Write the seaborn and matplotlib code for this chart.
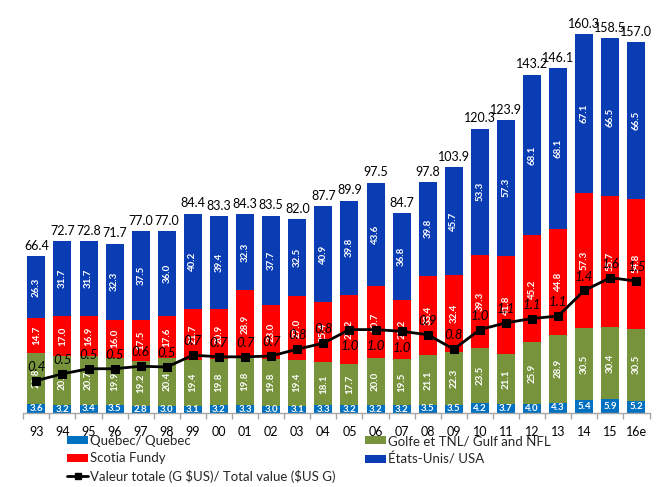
import matplotlib
matplotlib.use("Agg")
import matplotlib.pyplot as plt
import seaborn as sns
import numpy as np
import pandas as pd
from matplotlib.patches import Patch
from matplotlib.lines import Line2D

years = ["93", "94", "95", "96", "97", "98", "99", "00", "01", "02", "03", "04",
         "05", "06", "07", "08", "09", "10", "11", "12", "13", "14", "15", "16e"]
quebec = [3.6, 3.2, 3.4, 3.5, 2.8, 3.0, 3.1, 3.2, 3.3, 3.0, 3.1, 3.3,
          3.2, 3.2, 3.2, 3.5, 3.5, 4.2, 3.7, 4.0, 4.3, 5.4, 5.9, 5.2]
gulf = [21.8, 20.9, 20.7, 19.9, 19.2, 20.4, 19.4, 19.8, 19.8, 19.8, 19.4, 18.1,
        17.7, 20.0, 19.5, 21.1, 22.3, 23.5, 21.1, 25.9, 28.9, 30.5, 30.4, 30.5]
scotia = [14.7, 17.0, 16.9, 16.0, 17.5, 17.6, 21.7, 20.9, 28.9, 23.0, 27.0, 25.4,
          29.2, 30.7, 25.2, 33.4, 32.4, 39.3, 41.8, 45.2, 44.8, 57.3, 55.7, 54.8]
usa = [26.3, 31.7, 31.7, 32.3, 37.5, 36.0, 40.2, 39.4, 32.3, 37.7, 32.5, 40.9,
       39.8, 43.6, 36.8, 39.8, 45.7, 53.3, 57.3, 68.1, 68.1, 67.1, 66.5, 66.5]
totals = [66.4, 72.7, 72.8, 71.7, 77.0, 77.0, 84.4, 83.3, 84.3, 83.5, 82.0, 87.7,
          89.9, 97.5, 84.7, 97.8, 103.9, 120.3, 123.9, 143.2, 146.1, 160.3, 158.5, 157.0]
value = [0.38, 0.46, 0.52, 0.52, 0.55, 0.54, 0.68, 0.66, 0.66, 0.67, 0.75, 0.82,
         0.98, 0.98, 0.96, 0.92, 0.75, 0.98, 1.06, 1.11, 1.14, 1.44, 1.59, 1.55]
value_labels = ["0.4", "0.5", "0.5", "0.5", "0.6", "0.5", "0.7", "0.7", "0.7", "0.7",
                "0.8", "0.8", "1.0", "1.0", "1.0", "0.9", "0.8", "1.0", "1.1", "1.1",
                "1.1", "1.4", "1.6", "1.5"]

C_QC = "#0070C0"
C_GULF = "#77933C"
C_SF = "#FF0000"
C_US = "#0A3CB4"

sns.set_theme(style="white")
plt.rcParams["font.family"] = ["Lato", "DejaVu Sans"]

fig = plt.figure(figsize=(6.72, 4.87), dpi=100)
ax = fig.add_axes([23.3 / 672, 74 / 487, 626.2 / 672, 390 / 487])

q = np.array(quebec)
g = np.array(gulf)
s = np.array(scotia)
u = np.array(usa)
cum1 = q
cum2 = q + g
cum3 = q + g + s
cum4 = q + g + s + u

W = 0.69
for heights, col in [(cum4, C_US), (cum3, C_SF), (cum2, C_GULF), (cum1, C_QC)]:
    sns.barplot(x=years, y=heights, order=years, color=col, saturation=1,
                width=W, ax=ax, linewidth=0)

YMAX = 165
ax.set_xlim(-0.5, len(years) - 0.5)
ax.set_ylim(0, YMAX)
ax.set_xlabel("")
ax.set_ylabel("")
ax.set_yticks([])
for sp in ["left", "right", "top"]:
    ax.spines[sp].set_visible(False)
ax.spines["bottom"].set_color("#A6A6A6")
ax.spines["bottom"].set_linewidth(1)
ax.set_xticks(range(len(years)))
ax.set_xticklabels(years, fontsize=9, color="#000000")
ax.set_xticks(np.arange(-0.5, len(years), 1), minor=True)
ax.tick_params(axis="x", which="major", length=0, pad=9)
ax.tick_params(axis="x", which="minor", length=4, color="#A6A6A6", width=1,
               direction="out", bottom=True)

# segment labels
for i in range(len(years)):
    ax.text(i, q[i] / 2, f"{quebec[i]:.1f}", ha="center", va="center",
            color="white", fontsize=7, fontweight="bold")
    ax.text(i, cum1[i] + g[i] / 2, f"{gulf[i]:.1f}", ha="center", va="center",
            color="white", fontsize=7, fontweight="bold", rotation=90)
    ax.text(i, cum2[i] + s[i] / 2, f"{scotia[i]:.1f}", ha="center", va="center",
            color="white", fontsize=7, fontweight="bold", rotation=90)
    ax.text(i, cum3[i] + u[i] / 2, f"{usa[i]:.1f}", ha="center", va="center",
            color="white", fontsize=7, fontweight="bold", rotation=90)
    ax.annotate(f"{totals[i]:.1f}", (i, cum4[i]), xytext=(0, 3),
                textcoords="offset points", ha="center", va="bottom",
                fontsize=9, color="black")

# total value line on secondary axis
ax2 = ax.twinx()
sns.lineplot(x=np.arange(len(years)), y=value, ax=ax2, color="black",
             linewidth=2, marker="s", markersize=5.5, markeredgecolor="black")
ax2.set_ylim(0, YMAX / 36.0)
ax2.set_xlim(-0.5, len(years) - 0.5)
ax2.set_yticks([])
ax2.set_ylabel("")
for sp in ax2.spines.values():
    sp.set_visible(False)

below = {12, 13, 14}
for i, (v, lab) in enumerate(zip(value, value_labels)):
    dy = -12 if i in below else 10
    ax2.annotate(lab, (i, v), xytext=(0, dy), textcoords="offset points",
                 ha="center", va="center", fontsize=9.5, style="italic",
                 color="black")

# legends
h_qc = Patch(facecolor=C_QC, edgecolor="none")
h_gulf = Patch(facecolor=C_GULF, edgecolor="none")
h_sf = Patch(facecolor=C_SF, edgecolor="none")
h_us = Patch(facecolor=C_US, edgecolor="none")
h_line = Line2D([0], [0], color="black", linewidth=2, marker="s", markersize=4)

common = dict(frameon=False, fontsize=9.5, handlelength=1.6, handleheight=0.55,
              handletextpad=0.15, labelspacing=0.4, borderpad=0, borderaxespad=0)
fig.legend([h_qc, h_sf, h_line],
           ["Québec/ Quebec", "Scotia Fundy",
            "Valeur totale (G \\$US)/ Total value (\\$US G)"],
           loc="upper left", bbox_to_anchor=(67 / 672, 1 - 435 / 487), **common)
fig.legend([h_gulf, h_us],
           ["Golfe et TNL/ Gulf and NFL", "États-Unis/ USA"],
           loc="upper left", bbox_to_anchor=(365 / 672, 1 - 435 / 487), **common)

fig.savefig("out.png", dpi=100)
